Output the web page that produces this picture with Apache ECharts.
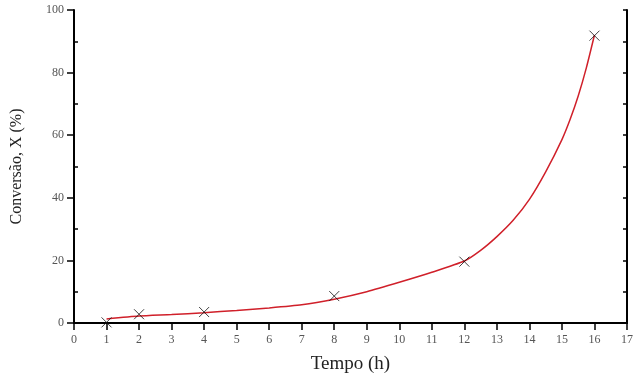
<!DOCTYPE html>
<html>
<head>
<meta charset="utf-8">
<script src="https://cdn.jsdelivr.net/npm/echarts@6/dist/echarts.min.js"></script>
<style>
  html, body { margin: 0; padding: 0; background: #fff; }
  #chart { width: 640px; height: 379px; }
</style>
</head>
<body>
<div id="chart"></div>
<script>
// measured points (x marks)
const pointHours = [1, 2, 4, 8, 12, 16];
const pointConv = [0.2, 2.8, 3.5, 8.6, 19.6, 91.8];

// fitted curve
const curveHours = [1, 2, 3, 4, 5, 6, 7, 8, 9, 10, 11, 12, 12.5, 13, 13.5, 14, 14.5, 15, 15.25, 15.5, 15.75, 16];
const curveConv = [1.3, 2.2, 2.7, 3.3, 4.0, 4.8, 5.8, 7.6, 10.0, 13.0, 16.2, 19.8, 23.2, 27.6, 32.8, 39.5, 48.3, 58.6, 65, 72.5, 81.5, 92];

const chart = echarts.init(document.getElementById('chart'));

const axisLine = { show: true, lineStyle: { color: '#000', width: 2 } };
const font = 'Liberation Serif';

const option = {
  animation: false,
  grid: { left: 74, top: 10, right: 13, bottom: 56, outerBoundsMode: 'none' },
  xAxis: [
    {
      type: 'value',
      min: 0, max: 17, interval: 1,
      name: 'Tempo (h)',
      nameLocation: 'middle',
      nameGap: 32,
      nameTextStyle: { fontFamily: font, fontSize: 19, color: '#222' },
      axisLine,
      axisTick: { show: true, length: 7, lineStyle: { color: '#000', width: 1.5 } },
      axisLabel: { margin: 11, fontFamily: font, fontSize: 12, color: '#555' },
      splitLine: { show: false },
    },
    {
      type: 'value', position: 'top',
      min: 0, max: 17,
      axisLine, axisTick: { show: false }, axisLabel: { show: false },
      splitLine: { show: false },
    },
  ],
  yAxis: [
    {
      type: 'value',
      min: 0, max: 100, interval: 20,
      name: 'Conversão, X (%)',
      nameLocation: 'middle',
      nameGap: 49,
      nameTextStyle: { fontFamily: font, fontSize: 16, color: '#222' },
      axisLine,
      axisTick: { show: true, length: 7, lineStyle: { color: '#000', width: 1.5 } },
      axisLabel: { margin: 10, fontFamily: font, fontSize: 12, color: '#555' },
      splitLine: { show: false },
    },
    {
      // minor ticks inside on the left
      type: 'value', position: 'left',
      min: 0, max: 100, interval: 20,
      axisLine: { show: false },
      axisTick: { show: false, inside: true },
      minorTick: { show: true, splitNumber: 2, length: 4, lineStyle: { color: '#000', width: 1.5 } },
      axisLabel: { show: false },
      splitLine: { show: false },
    },
    {
      type: 'value', position: 'right',
      min: 0, max: 100, interval: 10,
      axisLine,
      axisTick: { show: true, inside: true, length: 4, lineStyle: { color: '#000', width: 1.5 } },
      axisLabel: { show: false },
      splitLine: { show: false },
    },
  ],
  series: [
    {
      type: 'line',
      data: curveHours.map((h, i) => [h, curveConv[i]]),
      smooth: 0.2,
      showSymbol: false,
      lineStyle: { color: '#d0202a', width: 1.5 },
      z: 2,
    },
    {
      type: 'scatter',
      data: pointHours.map((h, i) => [h, pointConv[i]]),
      symbol: 'path://M0,0L10,10M10,0L0,10',
      symbolSize: 10,
      itemStyle: { color: 'transparent', borderColor: '#111', borderWidth: 1 },
      z: 3,
    },
  ],
};

chart.setOption(option);
</script>
</body>
</html>
